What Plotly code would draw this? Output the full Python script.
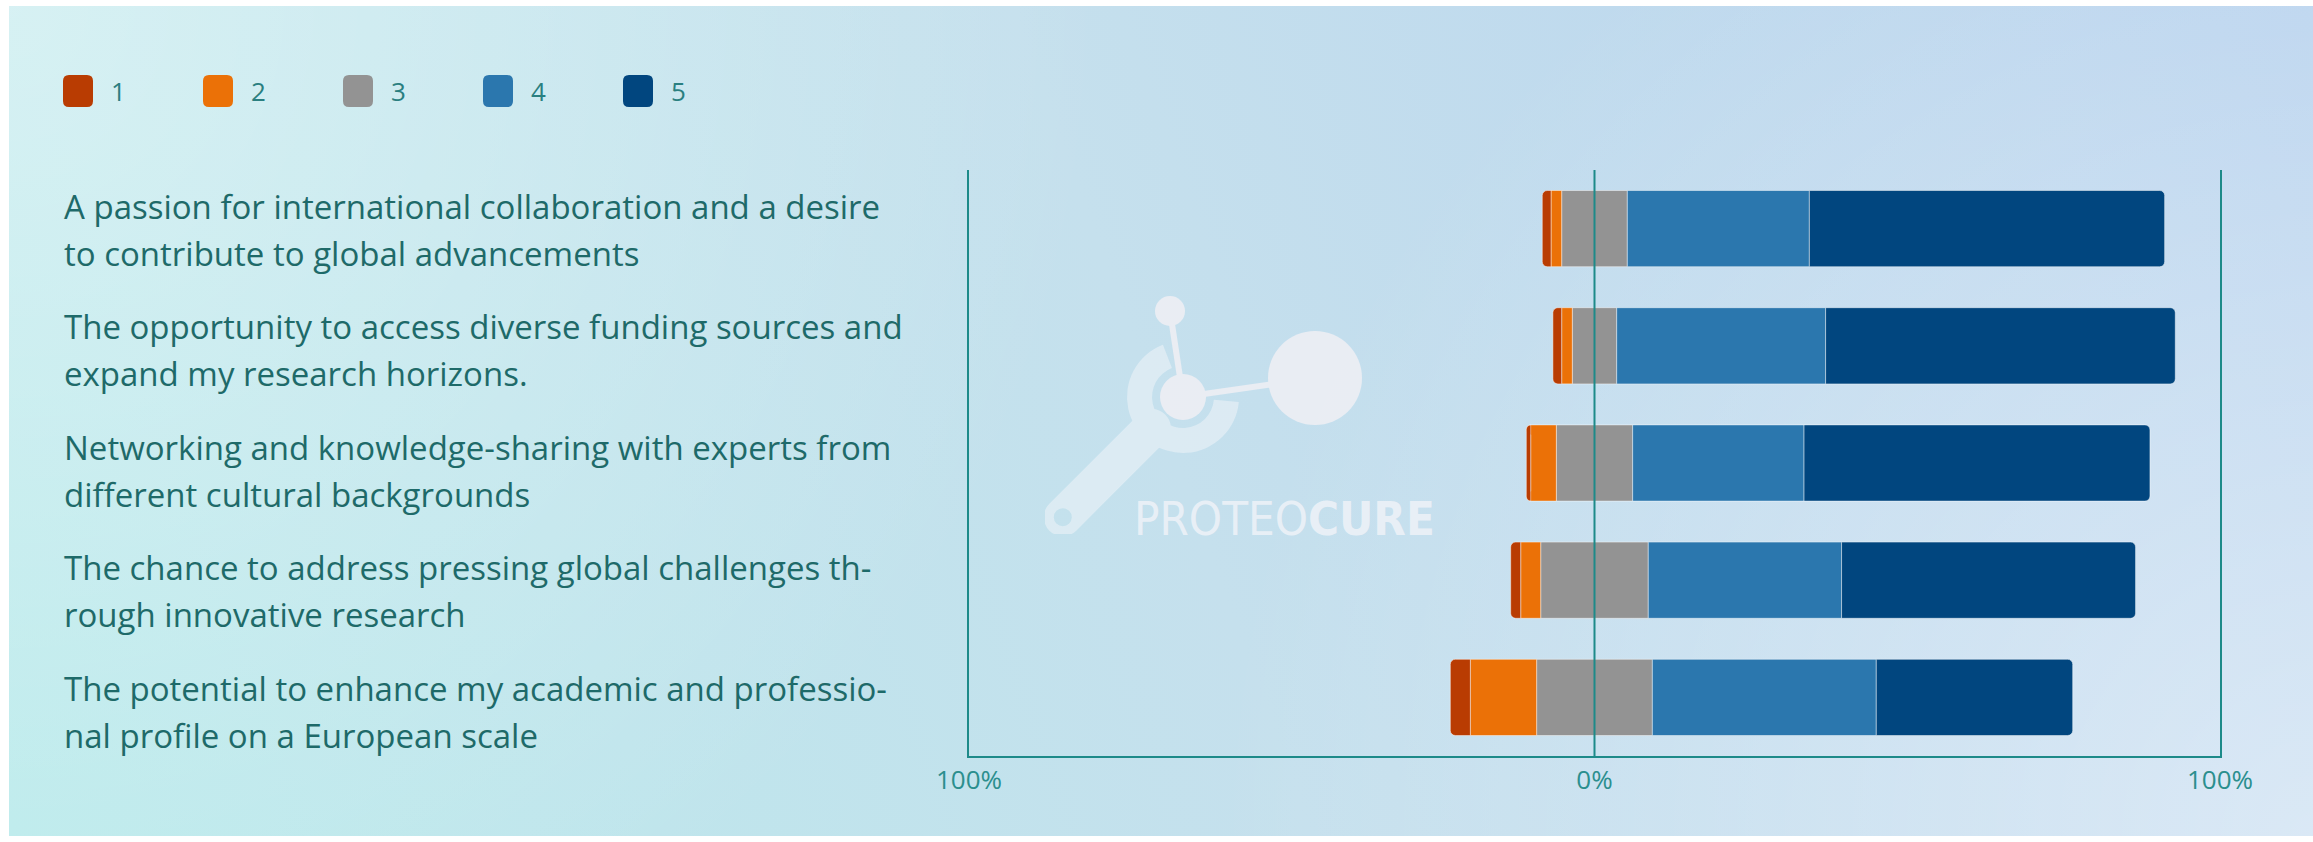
import base64
import math
import plotly.graph_objects as go

# survey statements (top to bottom) and how they wrap on the left
questions = [
    "A passion for international collaboration and a desire to contribute to global advancements",
    "The opportunity to access diverse funding sources and expand my research horizons.",
    "Networking and knowledge-sharing with experts from different cultural backgrounds",
    "The chance to address pressing global challenges through innovative research",
    "The potential to enhance my academic and professional profile on a European scale",
]
question_lines = [
    ["A passion for international collaboration and a desire", "to contribute to global advancements"],
    ["The opportunity to access diverse funding sources and", "expand my research horizons."],
    ["Networking and knowledge-sharing with experts from", "different cultural backgrounds"],
    ["The chance to address pressing global challenges th-", "rough innovative research"],
    ["The potential to enhance my academic and professio-", "nal profile on a European scale"],
]

levels = ["1", "2", "3", "4", "5"]
level_colors = ["#b93c02", "#eb7107", "#939393", "#2b77ae", "#01467f"]

# share of answers per level, in percent
share_1 = [1.4, 1.4, 0.7, 1.6, 3.2]
share_2 = [1.7, 1.7, 4.1, 3.2, 10.6]
share_3 = [10.5, 7.1, 12.2, 17.2, 18.5]
share_4 = [29.1, 33.4, 27.4, 30.9, 35.8]
share_5 = [56.8, 55.9, 55.3, 47.0, 31.4]

axis_ticks = [-100, 0, 100]
axis_tick_labels = ["100%", "0%", "100%"]

W, H = 2313, 842
ML, MR, MT, MB = 969, 93, 170, 86
PW = W - ML - MR
PH = H - MT - MB
TEAL = "#1d8a89"
LABEL_FONT = "Open Sans, Noto Sans, sans-serif"


def px_x(px):
    return (px - ML) / PW


def px_y(py):
    return (H - MB - py) / PH


# background card: soft gradient + faint logo
cw, ch = 2304, 830
ox, oy = 9, 6


def lp(x, y):
    return x - ox, y - oy


def pol(cx, cy, r, deg):
    a = math.radians(deg)
    return cx + r * math.cos(a), cy - r * math.sin(a)


mcx, mcy = lp(1183, 397)
scx, scy = lp(1170, 311)
bcx, bcy = lp(1315, 378)
ro, ri = 56, 31
a1, a2 = 111, 355
o1 = pol(mcx, mcy, ro, a1)
o2 = pol(mcx, mcy, ro, a2)
i1 = pol(mcx, mcy, ri, a1)
i2 = pol(mcx, mcy, ri, a2)
ring = (f"M{o1[0]:.1f},{o1[1]:.1f} A{ro},{ro} 0 1 0 {o2[0]:.1f},{o2[1]:.1f} "
        f"L{i2[0]:.1f},{i2[1]:.1f} A{ri},{ri} 0 1 1 {i1[0]:.1f},{i1[1]:.1f} Z")
h0 = pol(mcx, mcy, 44, 225)
h1 = pol(mcx, mcy, 170, 225)

svg = f'''<svg xmlns="http://www.w3.org/2000/svg" width="{cw}" height="{ch}" viewBox="0 0 {cw} {ch}" preserveAspectRatio="none">
<defs>
<linearGradient id="bg" gradientUnits="userSpaceOnUse" x1="0" y1="{ch}" x2="{cw}" y2="0">
<stop offset="0" stop-color="#b9eaeb"/>
<stop offset="0.5" stop-color="#c5e0ed"/>
<stop offset="1" stop-color="#b9d3ee"/>
</linearGradient>
<radialGradient id="g1" gradientUnits="userSpaceOnUse" cx="0" cy="0" r="1100">
<stop offset="0" stop-color="#ffffff" stop-opacity="0.4"/>
<stop offset="1" stop-color="#ffffff" stop-opacity="0"/>
</radialGradient>
<radialGradient id="g2" gradientUnits="userSpaceOnUse" cx="{cw}" cy="{ch}" r="1100">
<stop offset="0" stop-color="#ffffff" stop-opacity="0.45"/>
<stop offset="1" stop-color="#ffffff" stop-opacity="0"/>
</radialGradient>
<mask id="hole">
<rect x="0" y="0" width="{cw}" height="{ch}" fill="white"/>
<circle cx="{h1[0]:.1f}" cy="{h1[1]:.1f}" r="9" fill="black"/>
</mask>
</defs>
<rect x="0" y="0" width="{cw}" height="{ch}" fill="url(#bg)"/>
<rect x="0" y="0" width="{cw}" height="{ch}" fill="url(#g1)"/>
<rect x="0" y="0" width="{cw}" height="{ch}" fill="url(#g2)"/>
<g opacity="0.5" fill="#f4f6fa" mask="url(#hole)">
<path d="{ring}"/>
<line x1="{h0[0]:.1f}" y1="{h0[1]:.1f}" x2="{h1[0]:.1f}" y2="{h1[1]:.1f}" stroke="#f4f6fa" stroke-width="38" stroke-linecap="round"/>
</g>
<g fill="#eceef4" stroke="#eceef4" opacity="0.95">
<line x1="{scx}" y1="{scy}" x2="{mcx}" y2="{mcy}" stroke-width="6"/>
<line x1="{mcx}" y1="{mcy}" x2="{bcx}" y2="{bcy}" stroke-width="6"/>
<circle cx="{scx}" cy="{scy}" r="15" stroke="none"/>
<circle cx="{mcx}" cy="{mcy}" r="23" stroke="none"/>
<circle cx="{bcx}" cy="{bcy}" r="47" stroke="none"/>
</g>
</svg>'''
bg_uri = "data:image/svg+xml;base64," + base64.b64encode(svg.encode()).decode()

fig = go.Figure()

neutral_half = [v / 2 for v in share_3]
seg_line = dict(color="rgba(255,255,255,0.45)", width=1)
# negative side: nearest to zero first
for vals, i in [(neutral_half, 2), (share_2, 1), (share_1, 0)]:
    fig.add_trace(go.Bar(y=questions, x=[-v for v in vals], orientation="h",
                         name=levels[i], marker_color=level_colors[i],
                         marker_line=seg_line, showlegend=False))
for vals, i in [(neutral_half, 2), (share_4, 3), (share_5, 4)]:
    fig.add_trace(go.Bar(y=questions, x=vals, orientation="h",
                         name=levels[i], marker_color=level_colors[i],
                         marker_line=seg_line, showlegend=False))

# statement labels: their own column, spaced a little wider than the bars
annotations = []
for k, lines in enumerate(question_lines):
    top = 206 + 120.6 * k
    for j, line in enumerate(lines):
        annotations.append(dict(x=px_x(62), xref="paper", xanchor="left",
                                y=px_y(top + 47 * j), yref="paper", yanchor="middle",
                                text=line, showarrow=False,
                                font=dict(family=LABEL_FONT, size=33, color="#1e6a69")))

# legend (rounded swatches)
shapes = []
legend_x = [78, 218, 358, 498, 638]
w2, h2, r = 15, 16, 6
swatch = (f"M{-w2 + r},{-h2} L{w2 - r},{-h2} Q{w2},{-h2} {w2},{-h2 + r} L{w2},{h2 - r} "
          f"Q{w2},{h2} {w2 - r},{h2} L{-w2 + r},{h2} Q{-w2},{h2} {-w2},{h2 - r} "
          f"L{-w2},{-h2 + r} Q{-w2},{-h2} {-w2 + r},{-h2} Z")
for lx, lab, col in zip(legend_x, levels, level_colors):
    shapes.append(dict(type="path", xref="paper", yref="paper", xsizemode="pixel", ysizemode="pixel",
                       xanchor=px_x(lx), yanchor=px_y(91), path=swatch,
                       fillcolor=col, line=dict(width=0)))
    annotations.append(dict(x=px_x(lx + 31), xref="paper", xanchor="left",
                            y=px_y(91), yref="paper", yanchor="middle",
                            text=lab, showarrow=False,
                            font=dict(family=LABEL_FONT, size=26, color="#2a7f80")))

annotations.append(dict(x=px_x(1284), xref="paper", xanchor="center",
                        y=px_y(518), yref="paper", yanchor="middle",
                        text="PROTEO<b>CURE</b>", showarrow=False,
                        font=dict(family="Liberation Sans Narrow, DejaVu Sans Condensed, Roboto",
                                  size=47, color="rgba(242,244,249,0.8)")))

# 0% reference line over the bars
shapes.append(dict(type="line", xref="x", x0=0, x1=0, yref="paper", y0=0, y1=1,
                   line=dict(color=TEAL, width=2), layer="above"))

fig.update_layout(
    width=W, height=H,
    margin=dict(l=ML, r=MR, t=MT, b=MB, autoexpand=False),
    paper_bgcolor="white", plot_bgcolor="rgba(0,0,0,0)",
    barmode="relative", bargap=0.35, barcornerradius=5,
    showlegend=False,
    xaxis=dict(range=[-100, 100], tickvals=axis_ticks, ticktext=axis_tick_labels,
               showgrid=False, zeroline=False, showline=True, linecolor=TEAL, linewidth=2,
               ticks="", tickfont=dict(family=LABEL_FONT, size=26, color="#2b8f8e"),
               fixedrange=True),
    yaxis=dict(categoryorder="array", categoryarray=questions, range=[4.5, -0.5],
               showticklabels=False, showgrid=False, zeroline=False,
               showline=True, mirror=True, linecolor=TEAL, linewidth=2, fixedrange=True),
    annotations=annotations,
    shapes=shapes,
    images=[dict(source=bg_uri, xref="paper", yref="paper", x=px_x(ox), y=px_y(oy),
                 sizex=cw / PW, sizey=ch / PH, xanchor="left", yanchor="top",
                 sizing="stretch", layer="below")],
)

# the page's default body margin would shift the figure by 8px
fig.write_html("out.html", config={"displayModeBar": False},
               post_script="document.body.style.margin='0';")
